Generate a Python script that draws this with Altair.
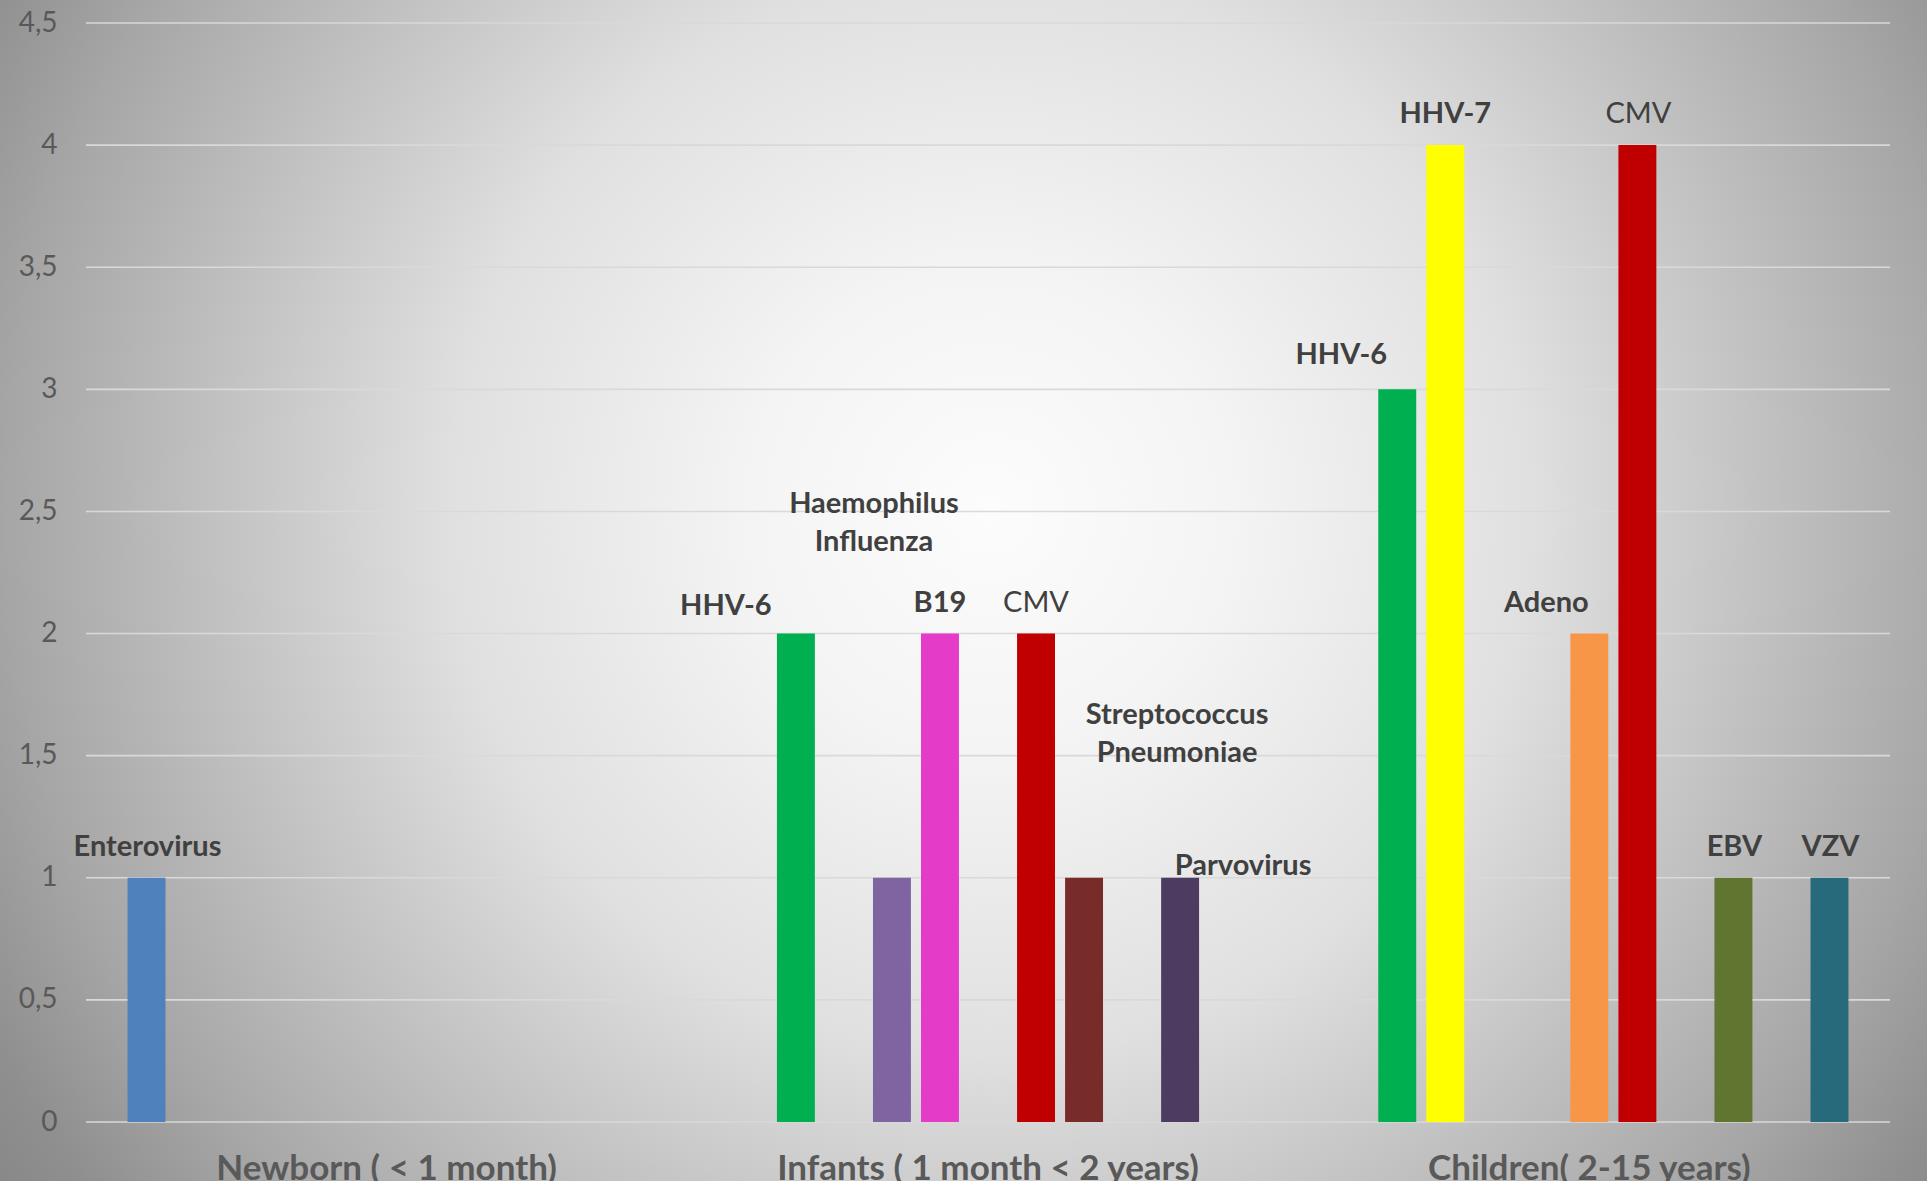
import altair as alt
import pandas as pd

# Age groups on the category axis
categories = ["Newborn ( < 1 month)", "Infants ( 1 month < 2 years)", "Children( 2-15 years)"]

# Pathogens, in the order of their slots inside each group
pathogens = ["Enterovirus", "HHV-6", "HHV-7", "Haemophilus Influenza", "B19", "Adeno",
             "CMV", "Streptococcus Pneumoniae", "EBV", "Parvovirus", "VZV"]

pathogen_colors = ["#4F81BD", "#00B050", "#FFFF00", "#8064A2", "#E43BC8", "#F79646",
                   "#C00000", "#772C2A", "#5F7530", "#4D3B62", "#276A7C"]

# Number of cases per pathogen for Newborn, Infants, Children
cases = {
    "Enterovirus":              [1, 0, 0],
    "HHV-6":                    [0, 2, 3],
    "HHV-7":                    [0, 0, 4],
    "Haemophilus Influenza":    [0, 1, 0],
    "B19":                      [0, 2, 0],
    "Adeno":                    [0, 0, 2],
    "CMV":                      [0, 2, 4],
    "Streptococcus Pneumoniae": [0, 1, 0],
    "EBV":                      [0, 0, 1],
    "Parvovirus":               [0, 1, 0],
    "VZV":                      [0, 0, 1],
}

y_ticks = [0, 0.5, 1, 1.5, 2, 2.5, 3, 3.5, 4, 4.5]

rows = [
    {"group": g, "pathogen": p, "cases": v}
    for p in pathogens
    for g, v in zip(categories, cases[p])
    if v > 0
]
df = pd.DataFrame(rows)

W, H = 1804, 1099
PAD = {"left": 86, "top": 23, "right": 37, "bottom": 60}
FONT = "Lato"

x_enc = alt.X("group:N", sort=categories, title=None,
              scale=alt.Scale(domain=categories, paddingInner=0.1215, paddingOuter=0.0607),
              axis=alt.Axis(labelFont=FONT, labelFontSize=35, labelFontWeight="bold",
                            labelColor="#595959", labelPadding=29, labelLimit=1000,
                            domain=False, ticks=False, labelAngle=0, grid=False, zindex=1))
xo_enc = alt.XOffset("pathogen:N",
                     scale=alt.Scale(domain=pathogens, paddingInner=0.21, paddingOuter=0.105))
y_scale = alt.Scale(domain=[0, 4.5], nice=False, zero=True)

# Radial grey-to-white backdrop covering the whole figure
bg_fill = alt.Gradient(
    gradient="radial", x1=0.5, y1=0.5, r1=0, x2=0.5, y2=0.5, r2=0.5,
    stops=[
        alt.GradientStop(offset=0.0, color="#fcfcfc"),
        alt.GradientStop(offset=0.2, color="#f4f4f4"),
        alt.GradientStop(offset=0.45, color="#e0e0e0"),
        alt.GradientStop(offset=0.82, color="#a6a6a6"),
        alt.GradientStop(offset=0.94, color="#8f8f8f"),
        alt.GradientStop(offset=1.0, color="#888888"),
    ],
)
background = alt.Chart(pd.DataFrame({"k": [0]})).mark_rect(fill=bg_fill).encode(
    x=alt.value(-296), x2=alt.value(2104), y=alt.value(-713), y2=alt.value(1687)
)

grid = alt.Chart(pd.DataFrame({"tick": y_ticks})).mark_rule(
    color="#d9d9d9", strokeWidth=1.6
).encode(
    y=alt.Y("tick:Q", scale=y_scale, title=None,
            axis=alt.Axis(values=y_ticks, labelExpr="replace(toString(datum.value), '.', ',')",
                          labelFont=FONT, labelFontSize=28, labelColor="#595959",
                          labelPadding=29, domain=False, ticks=False, grid=False, zindex=1)),
    x=alt.value(0), x2=alt.value(W),
)

bars = alt.Chart(df).mark_bar().encode(
    x=x_enc,
    xOffset=xo_enc,
    y=alt.Y("cases:Q", scale=y_scale),
    color=alt.Color("pathogen:N", scale=alt.Scale(domain=pathogens, range=pathogen_colors),
                    legend=None),
)

# Label placement: (group, pathogen, dx, dy, weight)
label_layout = [
    (0, "Enterovirus", 1, -31, "bold"),
    (1, "HHV-6", -70, -28, "bold"),
    (1, "Haemophilus Influenza", -18, -374, "bold"),
    (1, "B19", 0, -31, "bold"),
    (1, "CMV", 0, -31, "normal"),
    (1, "Streptococcus Pneumoniae", 93, -163, "bold"),
    (1, "Parvovirus", 63, -12, "bold"),
    (2, "HHV-6", -56, -34, "bold"),
    (2, "HHV-7", 0, -31, "bold"),
    (2, "Adeno", -43, -31, "bold"),
    (2, "CMV", 1, -31, "normal"),
    (2, "EBV", 1, -31, "bold"),
    (2, "VZV", 1, -31, "bold"),
]

labels = []
for gi, p, dx, dy, weight in label_layout:
    g = categories[gi]
    labels.append(
        alt.Chart(df).transform_filter(
            (alt.datum.group == g) & (alt.datum.pathogen == p)
        ).mark_text(
            font=FONT, fontSize=29, fontWeight=weight, color="#404040",
            dx=dx, dy=dy, baseline="middle", align="center",
            lineBreak=" ", lineHeight=38,
        ).encode(
            x=x_enc, xOffset=xo_enc,
            y=alt.Y("cases:Q", scale=y_scale),
            text="pathogen:N",
        )
    )

chart = alt.layer(background, grid, bars, *labels).properties(
    width=W, height=H, autosize=alt.AutoSizeParams(type="none"), padding=PAD,
    background="#a0a0a0",
).configure_view(stroke=None)

chart.save("out.html", embed_options={"renderer": "svg", "actions": False})
